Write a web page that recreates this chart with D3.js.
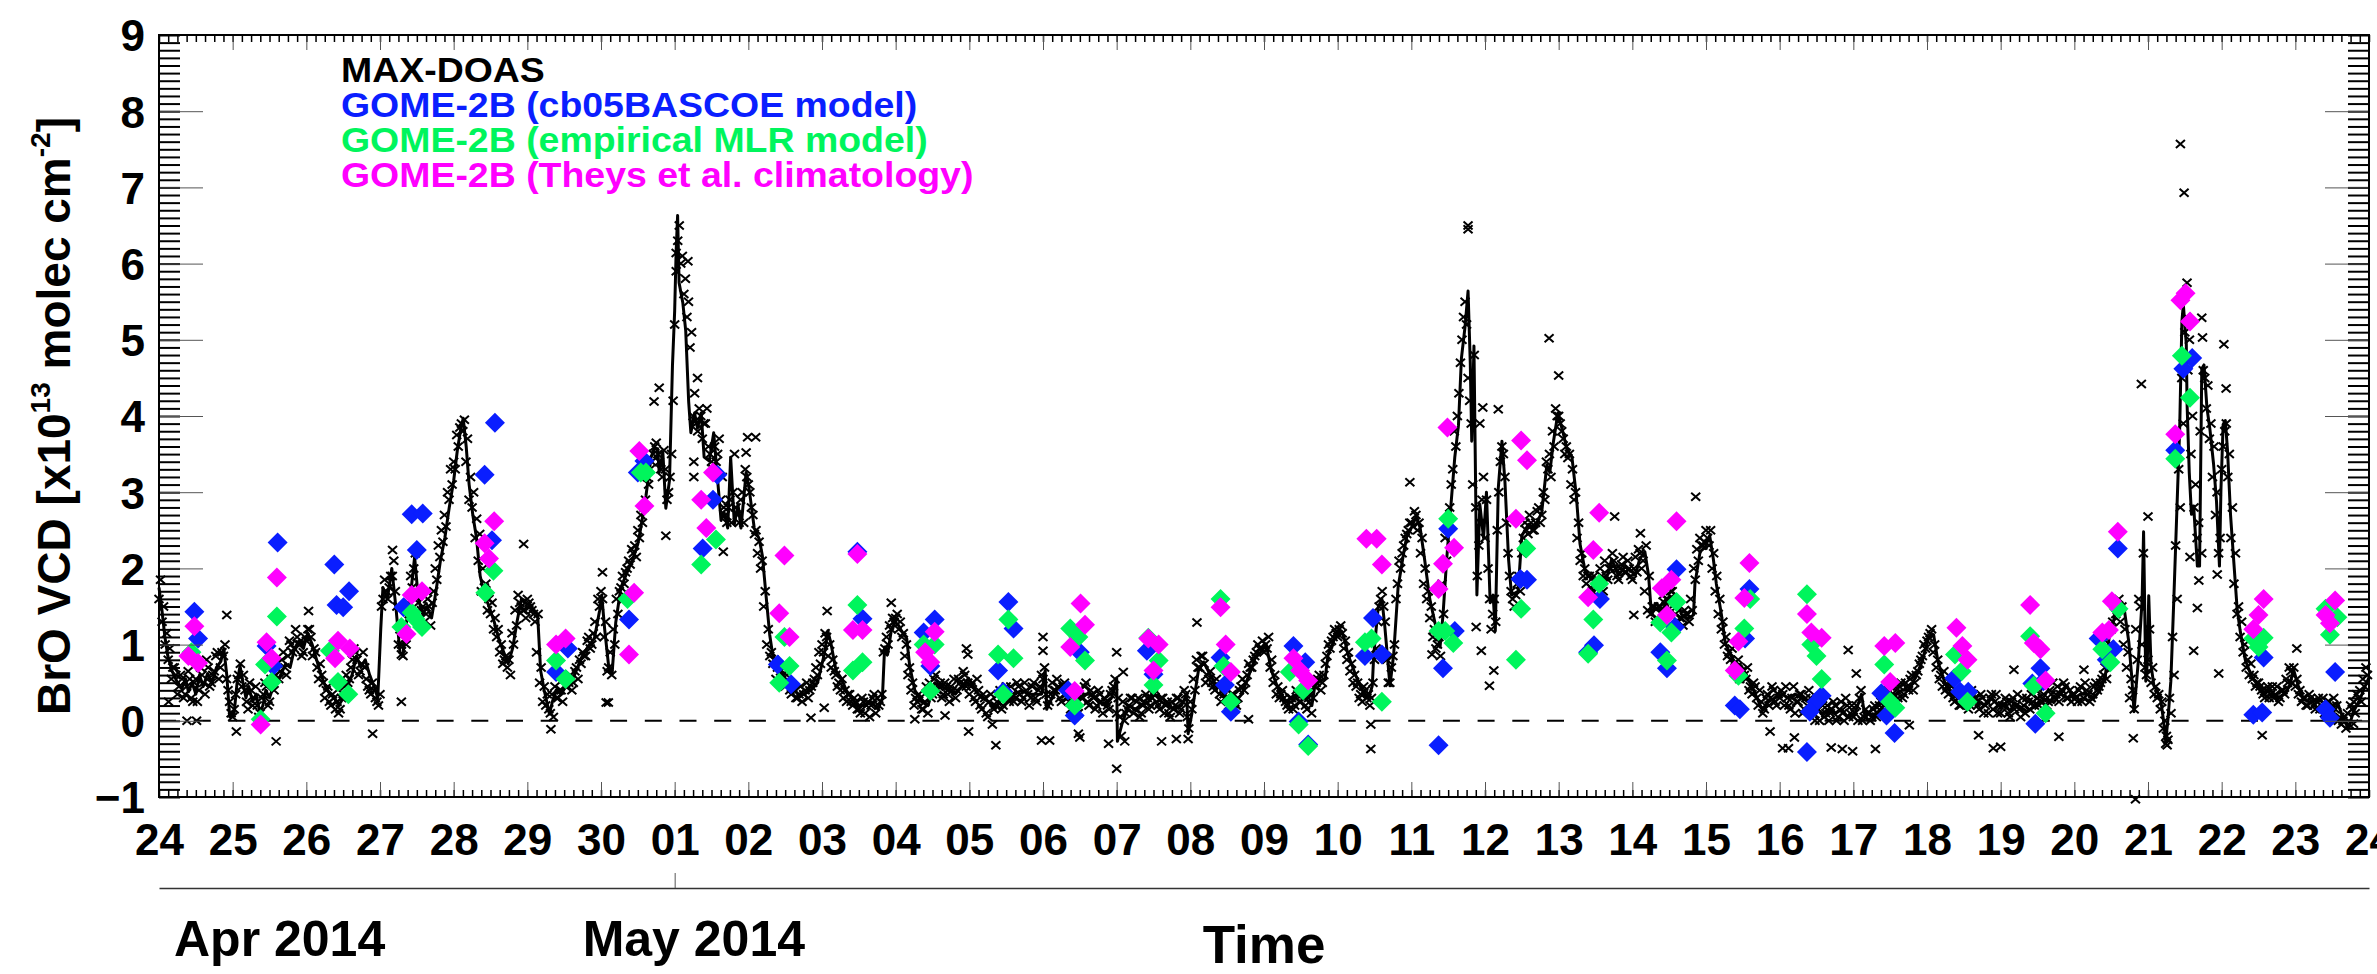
<!DOCTYPE html>
<html>
<head>
<meta charset="utf-8">
<script src="https://cdn.jsdelivr.net/npm/d3@7"></script>
<style>
  body { margin: 0; background: #fff; }
  svg { display: block; font-family: "Liberation Sans", Arial, Helvetica, sans-serif; font-weight: bold; }
</style>
</head>
<body>
<div id="chart"></div>
<script>
// time axis: fractional days counted from 24 Apr 2014 00:00 UTC
const startDate = Date.UTC(2014, 3, 24);
const endDate = Date.UTC(2014, 4, 24);
const monthLabels = ["Apr 2014", "May 2014"];
const legendLabels = [
  "MAX-DOAS",
  "GOME-2B (cb05BASCOE model)",
  "GOME-2B (empirical MLR model)",
  "GOME-2B (Theys et al. climatology)"
];

// MAX-DOAS smoothed line [day, VCD]
const doasLine = [
  [0,1.75],[0.04,1.45],[0.08,1.1],[0.12,0.85],[0.18,0.65],[0.25,0.5],[0.31,0.42],[0.36,0.55],[0.4,0.38],[0.45,0.5],
  [0.5,0.35],[0.55,0.6],[0.6,0.45],[0.66,0.62],[0.72,0.5],[0.78,0.7],[0.84,0.78],[0.88,0.95],[0.92,0.6],[0.96,0.05],
  [1.02,0.1],[1.06,0.5],[1.1,0.72],[1.14,0.5],[1.18,0.3],[1.22,0.45],[1.27,0.25],[1.32,0.35],[1.37,0.1],[1.41,0.2],
  [1.45,0.4],[1.5,0.3],[1.55,0.45],[1.6,0.5],[1.66,0.62],[1.72,0.75],[1.78,0.7],[1.84,0.95],[1.9,1.05],[1.96,0.95],
  [2.02,1.15],[2.08,1.0],[2.14,0.8],[2.2,0.6],[2.26,0.45],[2.32,0.35],[2.38,0.3],[2.44,0.2],[2.5,0.3],[2.56,0.45],
  [2.62,0.6],[2.68,0.85],[2.74,0.7],[2.8,0.8],[2.86,0.6],[2.92,0.45],[2.97,0.3],[3.01,1.2],[3.04,1.75],[3.1,1.6],
  [3.16,2.0],[3.22,1.45],[3.27,0.9],[3.31,0.85],[3.36,1.3],[3.42,1.7],[3.47,2.15],[3.52,1.6],[3.58,1.4],[3.64,1.5],
  [3.7,1.35],[3.76,1.7],[3.82,2.1],[3.88,2.4],[3.94,2.8],[4.0,3.15],[4.05,3.55],[4.1,3.85],[4.13,3.97],[4.17,3.6],
  [4.21,3.1],[4.26,2.7],[4.31,2.4],[4.36,1.9],[4.42,1.65],[4.48,1.5],[4.55,1.3],[4.62,1.05],[4.68,0.9],[4.74,0.75],
  [4.8,0.95],[4.86,1.3],[4.92,1.6],[4.97,1.55],[5.05,1.5],[5.14,1.39],[5.18,0.66],[5.23,0.4],[5.3,0.09],[5.34,0.25],
  [5.39,0.4],[5.46,0.35],[5.55,0.5],[5.64,0.6],[5.73,0.82],[5.82,0.97],[5.91,1.08],[5.98,1.44],[6.01,1.65],[6.05,1.2],
  [6.11,0.66],[6.15,0.61],[6.2,1.29],[6.27,1.75],[6.36,1.96],[6.43,2.12],[6.5,2.32],[6.54,2.53],[6.61,2.95],[6.68,3.46],
  [6.72,3.57],[6.77,3.57],[6.79,3.26],[6.84,3.52],[6.88,2.79],[6.93,3.16],[6.97,4.66],[7.0,5.38],[7.02,6.16],[7.04,6.63],
  [7.06,5.75],[7.11,5.49],[7.15,5.12],[7.19,4.19],[7.22,3.78],[7.27,4.04],[7.31,3.84],[7.36,4.04],[7.4,3.46],[7.47,3.41],
  [7.53,3.78],[7.57,3.31],[7.63,2.63],[7.67,2.74],[7.72,2.53],[7.76,3.46],[7.81,2.58],[7.86,2.84],[7.9,2.53],[7.97,3.26],
  [8.01,3.05],[8.08,2.53],[8.15,2.38],[8.19,2.17],[8.24,1.65],[8.29,1.13],[8.33,0.87],[8.4,0.72],[8.49,0.56],[8.58,0.46],
  [8.67,0.35],[8.76,0.35],[8.85,0.4],[8.94,0.5],[9.03,0.87],[9.08,1.18],[9.12,1.02],[9.19,0.66],[9.26,0.56],[9.33,0.4],
  [9.4,0.3],[9.48,0.2],[9.57,0.2],[9.67,0.25],[9.76,0.15],[9.82,0.3],[9.85,0.97],[9.89,0.87],[9.94,1.18],[9.99,1.3],
  [10.04,1.25],[10.08,1.18],[10.15,1.08],[10.19,0.72],[10.26,0.4],[10.35,0.25],[10.44,0.2],[10.53,0.5],[10.62,0.45],[10.71,0.4],
  [10.81,0.35],[10.9,0.45],[10.99,0.56],[11.08,0.4],[11.17,0.3],[11.26,0.25],[11.35,0.15],[11.44,0.3],[11.53,0.25],[11.62,0.35],
  [11.71,0.4],[11.8,0.35],[11.89,0.35],[11.98,0.35],[12.03,0.66],[12.05,0.15],[12.12,0.3],[12.21,0.45],[12.3,0.4],[12.39,0.35],
  [12.48,0.3],[12.57,0.35],[12.66,0.35],[12.75,0.25],[12.84,0.2],[12.93,0.3],[13.0,0.56],[13.01,-0.27],[13.07,-0.05],[13.16,0.2],
  [13.25,0.15],[13.34,0.2],[13.43,0.25],[13.52,0.35],[13.61,0.25],[13.7,0.2],[13.79,0.15],[13.88,0.2],[13.95,0.35],[13.97,-0.17],
  [14.02,0.09],[14.06,0.35],[14.11,0.66],[14.18,0.77],[14.24,0.66],[14.33,0.5],[14.43,0.4],[14.52,0.25],[14.61,0.25],[14.7,0.35],
  [14.78,0.56],[14.88,0.82],[14.97,0.92],[15.03,1.0],[15.1,0.66],[15.2,0.4],[15.29,0.25],[15.38,0.25],[15.47,0.35],[15.56,0.3],
  [15.65,0.2],[15.69,0.46],[15.74,0.51],[15.83,0.56],[15.87,0.87],[15.96,1.08],[16.05,1.18],[16.09,1.08],[16.14,0.87],[16.24,0.61],
  [16.33,0.4],[16.42,0.3],[16.47,0.46],[16.49,0.87],[16.55,1.49],[16.6,1.6],[16.64,1.24],[16.71,0.46],[16.76,0.87],[16.82,1.75],
  [16.89,2.17],[16.94,2.43],[17.0,2.53],[17.07,2.69],[17.12,2.53],[17.18,2.12],[17.25,1.6],[17.32,1.29],[17.39,0.97],[17.43,1.39],
  [17.48,2.12],[17.53,2.74],[17.59,3.46],[17.64,3.88],[17.68,4.76],[17.73,5.18],[17.77,5.64],[17.8,4.7],[17.82,3.67],[17.85,4.92],
  [17.89,1.65],[17.93,2.84],[17.98,2.4],[18.02,3.0],[18.07,1.55],[18.11,1.65],[18.14,1.18],[18.18,3.05],[18.23,3.67],[18.27,3.15],
  [18.32,2.12],[18.36,1.65],[18.45,1.7],[18.5,2.43],[18.59,2.58],[18.68,2.53],[18.77,2.74],[18.84,3.36],[18.88,3.26],[18.93,3.67],
  [18.99,4.04],[19.06,3.78],[19.11,3.57],[19.18,3.46],[19.24,2.95],[19.29,2.32],[19.36,1.96],[19.45,1.86],[19.54,1.8],[19.63,1.8],
  [19.72,2.12],[19.81,1.91],[19.9,2.02],[19.99,1.96],[20.04,1.91],[20.1,2.12],[20.17,2.22],[20.22,1.91],[20.26,1.39],[20.31,1.49],
  [20.4,1.44],[20.49,1.6],[20.58,1.65],[20.67,1.39],[20.76,1.34],[20.83,1.39],[20.85,1.8],[20.92,2.22],[20.99,2.28],[21.05,2.43],
  [21.1,2.12],[21.14,1.8],[21.21,1.39],[21.26,1.03],[21.33,0.87],[21.39,0.77],[21.48,0.72],[21.57,0.56],[21.67,0.35],[21.76,0.15],
  [21.85,0.25],[21.94,0.3],[22.03,0.35],[22.12,0.3],[22.21,0.35],[22.3,0.3],[22.39,0.25],[22.48,0.2],[22.57,0.09],[22.66,0.15],
  [22.75,0.09],[22.84,0.15],[22.93,0.04],[23.02,0.09],[23.11,0.35],[23.16,0.04],[23.2,0.09],[23.29,0.09],[23.38,0.15],[23.48,0.35],
  [23.57,0.35],[23.66,0.4],[23.75,0.4],[23.84,0.56],[23.93,0.77],[24.02,1.08],[24.09,1.13],[24.15,0.77],[24.24,0.51],[24.33,0.35],
  [24.43,0.3],[24.52,0.25],[24.61,0.35],[24.7,0.25],[24.79,0.2],[24.88,0.3],[24.97,0.2],[25.06,0.22],[25.13,0.12],[25.18,0.24],
  [25.27,0.18],[25.36,0.12],[25.45,0.18],[25.54,0.24],[25.63,0.29],[25.72,0.24],[25.81,0.35],[25.9,0.46],[25.99,0.29],[26.08,0.35],
  [26.17,0.35],[26.26,0.29],[26.35,0.4],[26.42,0.57],[26.47,1.08],[26.53,1.3],[26.6,1.58],[26.67,1.52],[26.74,1.03],[26.78,0.57],
  [26.81,0.12],[26.87,0.8],[26.92,1.58],[26.94,2.48],[26.97,0.52],[26.99,0.74],[27.01,1.64],[27.04,0.74],[27.08,0.46],[27.12,0.4],
  [27.17,0.29],[27.21,0.01],[27.24,-0.27],[27.27,0.01],[27.31,0.52],[27.35,1.58],[27.39,2.71],[27.43,3.83],[27.46,5.24],[27.48,5.46],
  [27.52,4.94],[27.53,4.17],[27.56,3.26],[27.59,2.71],[27.62,2.82],[27.67,2.03],[27.7,2.03],[27.73,4.62],[27.76,4.67],[27.8,4.11],
  [27.84,3.83],[27.89,3.37],[27.93,2.88],[27.97,2.03],[27.99,3.03],[28.02,3.89],[28.05,3.94],[28.08,3.54],[28.12,2.71],[28.16,2.15],
  [28.21,1.47],[28.25,1.19],[28.32,0.8],[28.41,0.57],[28.5,0.46],[28.57,0.35],[28.66,0.4],[28.75,0.29],[28.84,0.35],[28.93,0.46],
  [28.97,0.69],[29.04,0.46],[29.11,0.29],[29.2,0.24],[29.29,0.29],[29.38,0.24],[29.47,0.18],[29.57,0.24],[29.66,0.01],[29.72,-0.1],
  [29.79,0.12],[29.88,0.29],[29.95,0.46],[30.0,0.57]
];

// MAX-DOAS individual retrievals, one row per day, at half past each hour
const doasHourly = [
  [1.85,1.5,1.15,0.95,0.7,0.6,0.45,0.55,0.35,0.65,0.3,0.5,0.25,0.7,0.5,0.8,0.45,0.6,0.85,0.55,0.9,1.0,0.4,0.1],
  [0.15,0.55,0.75,0.6,0.25,0.5,0.2,0.45,0.05,0.3,0.5,0.2,0.55,0.4,0.75,0.65,0.9,0.6,1.05,0.9,1.2,1.0,0.85,1.1],
  [1.2,1.1,0.95,0.7,0.75,0.5,0.4,0.25,0.35,0.15,0.1,0.3,0.45,0.5,0.7,0.95,0.8,0.65,0.9,0.55,0.4,0.5,0.3,0.2],
  [1.5,1.85,1.6,1.9,2.1,1.5,1.2,0.85,1.0,1.4,1.75,2.2,1.55,1.45,1.3,1.6,1.25,1.7,1.85,2.15,2.35,2.55,2.9,3.1],
  [3.3,3.6,3.9,3.95,3.7,3.2,3.0,2.65,2.45,2.0,1.8,1.6,1.55,1.35,1.2,1.0,0.8,0.7,0.6,1.0,1.25,1.55,1.45,1.35],
  [1.55,1.45,1.3,1.4,0.7,0.45,0.35,0.1,0.05,0.3,0.4,0.25,0.45,0.5,0.4,0.65,0.55,0.75,0.85,1.05,0.95,1.15,1.1,1.5],
  [1.6,1.3,0.7,0.6,1.0,1.4,1.75,1.8,2.0,2.05,2.2,2.15,2.4,2.6,2.9,3.1,3.4,3.6,3.5,3.3,3.55,2.9,3.2,4.2],
  [5.9,6.5,6.1,5.8,5.5,5.1,4.3,3.8,4.0,3.9,4.1,3.5,3.3,3.4,3.7,3.2,2.7,2.8,2.6,3.5,2.7,2.9,2.6,3.2],
  [3.0,2.7,2.5,2.35,2.1,1.7,1.2,0.9,0.8,0.7,0.65,0.5,0.6,0.4,0.45,0.3,0.35,0.25,0.4,0.3,0.45,0.55,0.6,0.75],
  [0.9,1.1,1.0,0.8,0.6,0.5,0.55,0.4,0.35,0.25,0.3,0.15,0.1,0.25,0.2,0.05,0.3,0.1,0.2,0.35,0.95,1.0,1.2,1.3],
  [1.4,1.3,1.15,1.0,0.7,0.5,0.3,0.35,0.15,0.25,0.1,0.3,0.55,0.4,0.5,0.35,0.45,0.25,0.4,0.3,0.55,0.45,0.6,0.5],
  [0.45,0.3,0.55,0.2,0.35,0.1,0.25,-0.05,0.2,0.35,0.15,0.4,0.3,0.45,0.25,0.5,0.35,0.3,0.4,0.2,0.45,0.3,0.4,0.6],
  [0.7,0.2,0.35,0.4,0.55,0.3,0.45,0.35,0.25,0.4,0.2,0.1,0.3,0.45,0.25,0.4,0.3,0.2,0.35,0.1,0.25,0.15,0.4,0.55],
  [0.3,-0.2,0.0,0.15,0.3,0.1,0.25,0.05,0.2,0.35,0.15,0.3,0.4,0.2,0.3,0.1,0.25,0.05,0.15,0.3,0.1,0.25,0.35,-0.1],
  [0.15,0.4,0.7,0.85,0.75,0.6,0.65,0.45,0.55,0.35,0.4,0.3,0.2,0.35,0.15,0.3,0.45,0.4,0.6,0.7,0.8,0.9,0.95,1.05],
  [1.0,1.1,0.8,0.6,0.45,0.35,0.3,0.2,0.3,0.15,0.4,0.25,0.35,0.2,0.3,0.1,0.45,0.55,0.4,0.6,0.85,0.95,1.1,1.15],
  [1.2,1.15,1.05,0.9,0.75,0.6,0.5,0.35,0.45,0.3,0.2,0.5,0.95,1.5,1.7,1.3,0.5,0.7,1.0,1.8,2.0,2.3,2.45,2.6],
  [2.55,2.7,2.6,2.4,2.0,1.7,1.5,1.2,1.0,0.85,1.4,2.1,2.8,3.3,3.6,4.3,5.0,5.5,4.5,3.9,4.8,1.9,2.6,3.2],
  [2.9,1.6,1.4,1.3,3.0,3.6,3.2,2.2,1.7,1.5,1.8,1.7,2.4,2.5,2.7,2.5,2.6,2.8,2.7,2.9,3.3,3.2,3.6,4.0],
  [3.9,3.7,3.6,3.5,3.3,3.0,2.6,2.2,2.0,1.9,1.75,1.9,1.8,2.0,1.7,1.9,2.0,2.2,2.0,1.85,2.05,1.95,2.1,1.9],
  [2.0,1.95,2.2,2.1,2.3,1.9,1.5,1.3,1.5,1.4,1.55,1.45,1.7,1.6,1.5,1.35,1.25,1.4,1.3,1.45,1.85,2.1,2.3,2.35],
  [2.4,2.5,2.2,1.9,1.6,1.3,1.1,0.9,0.95,0.7,0.8,0.65,0.6,0.7,0.45,0.5,0.3,0.4,0.1,0.3,0.2,0.45,0.25,0.35],
  [0.4,0.2,0.3,0.15,0.45,0.25,0.35,0.1,0.3,0.4,0.2,0.0,0.15,0.3,0.05,0.2,0.1,0.25,0.0,0.15,0.1,0.3,0.05,0.2],
  [0.1,0.0,0.4,0.05,0.1,0.0,0.15,0.05,0.2,0.1,0.3,0.4,0.25,0.45,0.3,0.5,0.35,0.45,0.55,0.4,0.6,0.75,0.85,0.95],
  [1.1,1.2,1.0,0.8,0.6,0.65,0.45,0.5,0.3,0.4,0.2,0.35,0.25,0.15,0.4,0.3,0.2,0.35,0.1,0.25,0.3,0.15,0.35,0.2],
  [0.2,0.3,0.1,0.25,0.15,0.35,0.05,0.2,0.3,0.15,0.25,0.4,0.2,0.3,0.45,0.25,0.35,0.3,0.45,0.35,0.5,0.3,0.4,0.35],
  [0.3,0.4,0.25,0.5,0.35,0.3,0.45,0.4,0.5,0.6,0.55,1.0,1.3,1.4,1.6,1.5,1.2,0.9,0.55,0.15,0.8,1.5,2.2,0.6],
  [1.2,0.7,0.45,0.35,0.25,0.0,-0.25,0.1,0.6,1.6,2.8,3.9,5.3,5.0,4.0,3.1,2.6,2.2,4.5,4.4,3.9,3.6,3.0,2.4],
  [3.6,3.9,3.5,2.8,2.2,1.5,1.3,1.0,0.8,0.75,0.6,0.5,0.45,0.35,0.4,0.3,0.45,0.35,0.25,0.4,0.35,0.5,0.65,0.7],
  [0.55,0.4,0.3,0.2,0.35,0.25,0.15,0.3,0.2,0.1,0.25,0.15,0.3,0.2,0.05,0.0,-0.1,-0.05,0.15,0.1,0.3,0.25,0.45,0.6]
];

// MAX-DOAS individual retrievals, one row per day, on the hour
const doasOnHour = [
  [1.6,1.3,1.0,0.8,0.55,0.7,0.35,0.6,0.3,0.45,0.55,0.25,0.55,0.4,0.6,0.35,0.7,0.5,0.65,0.9,0.7,0.85,0.55,0.25],
  [0.05,0.35,0.6,0.45,0.4,0.15,0.4,0.3,0.2,0.1,0.35,0.45,0.25,0.5,0.6,0.55,0.8,0.7,0.85,1.0,0.95,1.1,1.0,0.9],
  [1.05,1.2,0.85,0.9,0.55,0.6,0.3,0.45,0.2,0.3,0.25,0.15,0.35,0.6,0.55,0.8,0.9,0.6,0.75,0.7,0.45,0.35,0.4,0.25],
  [0.35,1.6,1.7,1.75,1.9,1.7,1.0,1.0,1.15,1.55,1.9,2.0,1.7,1.35,1.5,1.4,1.5,1.55,2.0,2.3,2.5,2.7,3.0,3.3],
  [3.4,3.75,3.85,3.8,3.4,2.9,2.8,2.4,2.1,1.7,1.75,1.45,1.4,1.2,1.1,0.9,0.75,0.85,0.8,1.15,1.45,1.65,1.5,1.45],
  [1.6,1.5,1.4,0.9,0.5,0.25,0.2,0.15,0.35,0.45,0.3,0.4,0.55,0.45,0.6,0.5,0.7,0.8,0.9,0.85,1.1,1.0,1.3,1.6],
  [1.7,1.1,0.65,0.9,1.2,1.6,1.7,1.9,1.95,2.1,2.25,2.3,2.5,2.7,2.8,3.2,3.3,3.5,3.65,3.4,3.2,3.3,3.0,3.5],
  [5.2,6.3,6.0,5.6,5.3,4.9,4.0,3.9,4.1,3.7,3.9,3.6,3.4,3.6,3.5,2.9,2.8,2.6,2.9,3.0,2.8,2.6,3.0,3.3],
  [3.1,2.8,2.45,2.2,2.0,1.5,1.0,0.85,0.75,0.55,0.5,0.6,0.45,0.5,0.35,0.4,0.3,0.45,0.35,0.5,0.4,0.5,0.7,0.9],
  [1.0,1.15,0.85,0.7,0.65,0.45,0.4,0.3,0.25,0.35,0.2,0.25,0.15,0.3,0.1,0.25,0.2,0.35,0.3,0.25,0.9,1.1,1.25,1.35],
  [1.35,1.2,1.1,0.85,0.6,0.4,0.2,0.25,0.3,0.15,0.45,0.5,0.35,0.6,0.45,0.3,0.5,0.35,0.45,0.55,0.4,0.5,0.65,0.45],
  [0.35,0.5,0.25,0.4,0.15,0.3,0.05,0.35,0.15,0.25,0.4,0.2,0.45,0.25,0.35,0.3,0.45,0.25,0.5,0.35,0.3,0.5,0.25,0.45],
  [0.55,0.35,0.25,0.5,0.4,0.45,0.25,0.5,0.3,0.15,0.35,0.25,0.4,0.3,0.5,0.2,0.35,0.15,0.4,0.25,0.3,0.2,0.35,0.45],
  [0.1,0.05,0.25,0.1,0.2,0.3,0.15,0.3,0.1,0.25,0.3,0.2,0.35,0.25,0.15,0.3,0.2,0.1,0.25,0.2,0.3,0.15,0.4,0.05],
  [0.25,0.55,0.8,0.7,0.85,0.5,0.55,0.5,0.4,0.45,0.25,0.35,0.3,0.25,0.35,0.2,0.4,0.55,0.5,0.75,0.7,0.85,1.0,0.95],
  [0.9,0.95,0.7,0.5,0.35,0.3,0.4,0.25,0.15,0.3,0.2,0.35,0.25,0.35,0.15,0.35,0.3,0.5,0.6,0.5,0.75,1.0,1.05,1.2],
  [1.1,1.25,0.95,0.8,0.65,0.5,0.45,0.3,0.25,0.4,0.35,0.3,0.8,1.3,1.6,1.5,0.8,0.5,0.85,1.6,2.1,2.2,2.4,2.5],
  [2.6,2.75,2.5,2.2,1.8,1.6,1.35,1.1,0.95,1.1,1.8,2.4,2.6,3.1,3.8,4.0,4.7,5.3,5.2,4.2,3.1,2.8,2.3,2.9],
  [2.4,2.0,1.2,1.6,2.5,3.4,3.5,2.6,1.9,1.6,1.65,1.9,2.2,2.6,2.45,2.6,2.5,2.75,2.6,3.0,3.4,3.5,3.8,4.1],
  [4.0,3.8,3.5,3.45,3.1,2.9,2.4,2.1,1.9,1.8,1.9,1.7,1.85,1.75,1.9,2.1,1.85,2.0,2.1,1.9,2.0,2.15,1.95,2.0],
  [1.85,2.15,2.25,2.0,1.7,1.45,1.4,1.5,1.35,1.5,1.65,1.6,1.55,1.7,1.4,1.3,1.35,1.45,1.4,1.6,2.0,2.25,2.4,2.3],
  [2.5,2.3,2.0,1.7,1.4,1.2,1.0,0.85,0.8,0.75,0.7,0.55,0.65,0.55,0.4,0.35,0.45,0.2,0.25,0.15,0.35,0.3,0.4,0.2],
  [0.3,0.35,0.45,0.2,0.3,0.1,0.25,0.35,0.15,0.2,0.3,0.1,0.25,0.0,0.2,0.1,0.0,0.15,0.2,0.05,0.25,0.0,0.2,0.1],
  [0.05,0.2,0.3,0.0,0.15,0.1,0.05,0.2,0.1,0.25,0.2,0.35,0.45,0.3,0.4,0.45,0.3,0.5,0.4,0.6,0.5,0.65,0.8,1.0],
  [1.05,1.15,0.9,0.7,0.55,0.45,0.4,0.35,0.45,0.25,0.3,0.2,0.4,0.3,0.2,0.35,0.25,0.15,0.3,0.2,0.1,0.35,0.25,0.1],
  [0.1,0.2,0.25,0.05,0.3,0.2,0.15,0.3,0.1,0.25,0.35,0.2,0.3,0.25,0.35,0.2,0.4,0.5,0.35,0.25,0.4,0.45,0.3,0.25],
  [0.35,0.25,0.45,0.3,0.4,0.25,0.35,0.5,0.45,0.55,0.7,0.9,1.2,1.55,1.45,1.3,1.0,0.7,0.3,0.4,1.2,1.6,1.0,0.7],
  [0.8,0.5,0.35,0.3,0.15,-0.1,-0.2,0.3,1.1,2.3,3.3,4.5,5.1,4.6,3.5,2.8,2.4,3.8,4.6,4.1,3.7,3.2,2.7,2.2],
  [3.3,3.8,3.2,2.4,1.8,1.4,1.1,0.9,0.7,0.6,0.55,0.45,0.5,0.4,0.3,0.45,0.35,0.3,0.45,0.3,0.4,0.55,0.7,0.5],
  [0.45,0.35,0.25,0.3,0.2,0.3,0.2,0.25,0.15,0.3,0.2,0.25,0.1,0.15,0.0,-0.05,0.05,0.1,0.2,0.25,0.35,0.4,0.55,0.7]
];

// MAX-DOAS scattered retrievals away from the main band [day, VCD]
const doasExtra = [
  [0.13,0.25],[0.38,0.0],[0.51,0.0],[0.92,1.39],[1.05,-0.14],[1.59,-0.27],[2.03,1.44],[2.9,-0.17],[3.17,2.24],[3.29,0.25],
  [3.29,0.87],[4.95,2.32],[5.32,-0.11],[6.02,1.95],[6.07,0.24],[6.1,0.24],[6.72,4.19],[6.79,4.37],[6.88,2.43],[7.02,6.14],
  [7.18,6.03],[7.26,3.4],[7.26,3.2],[7.31,4.5],[7.66,2.22],[7.97,3.52],[7.99,3.72],[8.1,3.72],[8.85,0.04],[9.03,0.17],
  [9.07,1.44],[9.94,1.55],[10.26,0.02],[10.67,0.07],[10.96,0.95],[10.98,0.87],[10.99,-0.14],[11.36,-0.32],[12.0,1.1],[12.0,0.92],
  [11.98,-0.26],[12.09,-0.26],[12.48,-0.17],[12.5,-0.22],[12.89,-0.3],[13.0,-0.63],[13.0,0.9],[13.09,0.64],[13.11,-0.27],[13.61,-0.27],
  [13.81,-0.24],[13.97,-0.24],[14.09,1.29],[14.79,0.02],[16.45,-0.05],[16.45,-0.37],[16.98,3.13],[17.28,0.87],[17.77,6.5],[17.77,6.45],
  [17.88,1.23],[17.93,3.9],[17.95,0.92],[17.97,4.11],[18.06,0.46],[18.12,0.66],[18.18,4.09],[18.87,5.02],[19.0,4.53],[19.76,2.68],
  [20.02,1.39],[20.11,2.46],[20.86,2.94],[21.87,-0.14],[22.04,-0.36],[22.12,-0.36],[22.2,-0.22],[22.7,-0.35],[22.85,-0.37],[22.93,0.93],
  [22.99,-0.4],[23.04,0.62],[23.3,-0.37],[23.76,-0.06],[24.7,-0.19],[24.9,-0.36],[25.0,-0.34],[25.18,0.67],[25.79,-0.21],[26.13,0.67],
  [26.8,-0.23],[26.83,-1.03],[26.91,4.42],[27.0,2.68],[27.24,-0.3],[27.26,-0.32],[27.44,7.57],[27.49,6.93],[27.53,5.75],[27.57,2.15],
  [27.62,0.92],[27.67,1.48],[27.69,1.84],[27.73,5.29],[27.74,5.03],[27.94,1.92],[27.96,0.62],[28.03,4.94],[28.06,4.36],[28.55,-0.19],
  [29.02,0.95],[29.79,-0.04]
];

// GOME-2B with cb05BASCOE stratospheric model [day, VCD]
const gomeBascoe = [
  [0.48,1.43],[0.53,1.08],[1.61,2.34],[1.46,0.98],[1.55,0.72],[2.38,2.05],[2.58,1.7],[2.41,1.52],[2.5,1.49],[3.43,2.71],
  [3.58,2.72],[3.5,2.24],[3.32,1.49],[4.56,3.91],[4.42,3.23],[4.52,2.37],[5.55,0.95],[5.39,0.64],[6.59,3.41],[6.5,3.26],
  [6.38,1.33],[7.58,3.23],[7.52,2.9],[7.38,2.26],[8.4,0.74],[8.58,0.48],[9.48,2.22],[9.55,1.34],[10.53,1.33],[10.38,1.16],
  [10.47,0.72],[11.53,1.56],[11.6,1.21],[11.39,0.66],[11.46,0.38],[12.5,0.9],[12.34,0.4],[12.43,0.07],[13.41,0.92],[13.5,0.61],
  [14.41,0.83],[14.47,0.47],[14.55,0.12],[15.4,0.98],[15.56,0.77],[15.47,-0.01],[15.6,-0.31],[16.48,1.35],[16.37,0.85],[16.6,0.87],
  [17.5,2.52],[17.59,1.18],[17.43,0.69],[17.37,-0.32],[18.48,1.86],[18.57,1.85],[19.56,1.6],[19.48,0.99],[19.4,0.9],[20.6,1.99],
  [20.58,1.23],[20.38,0.9],[20.47,0.69],[21.59,1.73],[21.53,1.08],[21.39,0.2],[21.46,0.15],[22.57,0.33],[22.5,0.25],[22.41,0.12],
  [22.37,-0.41],[23.38,0.36],[23.45,0.07],[23.56,-0.16],[24.37,0.56],[24.45,0.38],[24.56,0.38],[25.54,0.69],[25.43,0.49],[25.58,0.52],
  [25.47,-0.04],[26.59,2.26],[26.33,1.08],[26.53,0.94],[26.44,0.8],[27.6,4.76],[27.48,4.62],[27.37,3.55],[28.57,0.83],[28.43,0.08],
  [28.55,0.11],[29.54,0.64],[29.41,0.15],[29.47,0.04]
];

// GOME-2B with empirical MLR stratospheric model [day, VCD]
const gomeMlr = [
  [0.44,0.9],[1.6,1.37],[1.44,0.74],[1.53,0.51],[1.38,0.02],[2.32,0.92],[2.43,0.51],[2.57,0.35],[3.43,1.42],[3.48,1.34],
  [3.57,1.23],[3.29,1.23],[4.54,1.97],[4.43,1.68],[5.39,0.79],[5.52,0.55],[6.54,3.26],[6.61,3.26],[6.36,1.6],[7.56,2.38],
  [7.36,2.05],[8.49,1.1],[8.56,0.72],[8.42,0.5],[9.48,1.52],[9.42,0.66],[9.55,0.77],[10.53,1.0],[10.38,1.0],[10.47,0.39],
  [11.53,1.33],[11.39,0.87],[11.6,0.82],[11.46,0.35],[12.37,1.21],[12.48,1.1],[12.57,0.79],[12.43,0.2],[13.43,1.09],[13.57,0.79],
  [13.5,0.47],[14.41,1.6],[14.45,0.72],[14.55,0.25],[15.35,0.64],[15.53,0.4],[15.47,-0.05],[15.6,-0.33],[16.46,1.08],[16.37,1.03],
  [16.6,0.25],[17.5,2.65],[17.37,1.18],[17.46,1.18],[17.57,1.02],[18.56,2.26],[18.49,1.47],[18.42,0.8],[19.55,1.8],[19.47,1.33],
  [19.4,0.88],[20.6,1.56],[20.38,1.29],[20.53,1.16],[20.47,0.79],[21.6,1.6],[21.52,1.21],[21.44,0.59],[22.37,1.66],[22.43,1.0],
  [22.5,0.85],[22.57,0.55],[23.42,0.74],[23.5,0.25],[23.57,0.17],[24.38,0.87],[24.47,0.65],[24.55,0.25],[25.4,1.11],[25.45,0.46],
  [25.61,0.1],[26.6,1.47],[26.38,0.94],[26.49,0.77],[27.46,4.79],[27.57,4.24],[27.37,3.44],[28.43,1.08],[28.57,1.09],[28.5,0.97],
  [29.41,1.47],[29.57,1.36],[29.47,1.13]
];

// GOME-2B with Theys et al. climatology [day, VCD]
const gomeTheys = [
  [0.48,1.24],[0.4,0.85],[0.53,0.76],[1.6,1.88],[1.46,1.03],[1.53,0.82],[1.38,-0.05],[2.43,1.05],[2.59,0.95],[2.39,0.82],
  [3.57,1.7],[3.43,1.65],[3.36,1.14],[4.55,2.62],[4.42,2.33],[4.48,2.13],[5.39,1.0],[5.52,1.08],[6.52,3.54],[6.59,2.82],
  [6.45,1.68],[6.38,0.87],[7.52,3.26],[7.36,2.9],[7.43,2.53],[8.49,2.17],[8.42,1.41],[8.56,1.1],[9.48,2.19],[9.42,1.19],
  [9.55,1.19],[10.53,1.17],[10.4,0.9],[10.47,0.77],[12.51,1.54],[12.57,1.26],[12.37,0.97],[12.43,0.39],[13.43,1.08],[13.57,1.0],
  [13.5,0.66],[14.41,1.49],[14.48,1.0],[14.55,0.64],[15.4,0.82],[15.49,0.66],[15.6,0.53],[16.39,2.39],[16.53,2.39],[16.6,2.05],
  [17.49,3.85],[17.58,2.27],[17.43,2.06],[17.37,1.73],[18.49,3.68],[18.57,3.42],[18.42,2.65],[19.55,2.73],[19.47,2.24],[19.4,1.62],
  [20.6,2.62],[20.53,1.85],[20.4,1.74],[20.47,1.39],[21.59,2.07],[21.52,1.61],[21.44,1.04],[21.39,0.66],[22.37,1.4],[22.43,1.16],
  [22.57,1.09],[23.42,0.98],[23.57,1.02],[23.5,0.51],[24.4,1.22],[24.48,0.98],[24.55,0.8],[25.4,1.52],[25.45,1.02],[25.54,0.94],
  [25.61,0.53],[26.59,2.48],[26.51,1.57],[26.38,1.16],[26.47,1.19],[27.44,5.52],[27.51,5.61],[27.57,5.24],[27.37,3.76],[28.57,1.6],
  [28.5,1.39],[28.43,1.2],[29.54,1.58],[29.41,1.39],[29.47,1.28]
];

const W = 2377, H = 974;
const plot = { left: 159, right: 2369, top: 35, bottom: 797 };
const colors = { doas: "#000000", bascoe: "#0a1eff", mlr: "#00f55c", theys: "#ff00ff" };

const toDate = d => new Date(startDate + d * 864e5);

const svg = d3.select("#chart").append("svg")
  .attr("width", W).attr("height", H);

const x = d3.scaleUtc()
  .domain([new Date(startDate), new Date(endDate)])
  .range([plot.left, plot.right]);
const y = d3.scaleLinear().domain([-1, 9]).range([plot.bottom, plot.top]);

function styleTicks(g, color, width) {
  g.select(".domain").remove();
  g.selectAll(".tick line").attr("stroke", color).attr("stroke-width", width);
}

// zero reference
svg.append("line")
  .attr("x1", plot.left).attr("x2", plot.right)
  .attr("y1", y(0)).attr("y2", y(0))
  .attr("stroke", "#000").attr("stroke-width", 2)
  .attr("stroke-dasharray", "17,17.7");

// MAX-DOAS crosses
const crosses = [];
doasHourly.forEach((row, d) => {
  row.forEach((v, i) => crosses.push([d + (i + 0.5) / row.length, v]));
});
doasOnHour.forEach((row, d) => {
  row.forEach((v, i) => crosses.push([d + i / row.length, v]));
});
doasExtra.forEach(p => crosses.push(p));

svg.append("g").selectAll("path")
  .data(crosses)
  .enter().append("path")
  .attr("transform", d => `translate(${x(toDate(d[0]))},${y(d[1])})`)
  .attr("d", "M-4.5,-4L4.5,4M-4.5,4L4.5,-4")
  .attr("stroke", colors.doas)
  .attr("stroke-width", 2)
  .attr("fill", "none");

// MAX-DOAS line
const line = d3.line()
  .x(d => x(toDate(d[0])))
  .y(d => y(d[1]));

svg.append("path")
  .datum(doasLine)
  .attr("d", line)
  .attr("fill", "none")
  .attr("stroke", "#000")
  .attr("stroke-width", 3)
  .attr("stroke-linejoin", "round");

// GOME-2B diamonds
const diamond = "M0,-10L10,0L0,10L-10,0Z";
[[gomeBascoe, colors.bascoe], [gomeMlr, colors.mlr], [gomeTheys, colors.theys]].forEach(([data, c]) => {
  svg.append("g").selectAll("path")
    .data(data)
    .enter().append("path")
    .attr("transform", d => `translate(${x(toDate(d[0]))},${y(d[1])})`)
    .attr("d", diamond)
    .attr("fill", c);
});

// axes: minor + major ticks on all four sides
const hourTicks = d3.utcHour.every(3);
const dayTicks = d3.utcDay.every(1);
const yMinor = d3.range(-10, 91).map(i => i / 10);
const yMajor = d3.range(-1, 10);

svg.append("g").attr("transform", `translate(0,${plot.bottom})`)
  .call(d3.axisBottom(x).ticks(hourTicks).tickSize(-7).tickFormat(""))
  .call(g => styleTicks(g, "#000", 1.5));

const xMajor = svg.append("g").attr("transform", `translate(0,${plot.bottom})`)
  .call(d3.axisBottom(x).ticks(dayTicks).tickSize(-15).tickFormat(d3.utcFormat("%d")))
  .call(g => styleTicks(g, "#555", 1));
xMajor.selectAll("text")
  .attr("y", 58).attr("dy", null)
  .attr("font-size", 44).attr("font-family", null).attr("font-weight", "bold")
  .attr("fill", "#000");

svg.append("g").attr("transform", `translate(0,${plot.top})`)
  .call(d3.axisTop(x).ticks(hourTicks).tickSize(-7).tickFormat(""))
  .call(g => styleTicks(g, "#000", 1.5));
svg.append("g").attr("transform", `translate(0,${plot.top})`)
  .call(d3.axisTop(x).ticks(dayTicks).tickSize(-15).tickFormat(""))
  .call(g => styleTicks(g, "#555", 1));

svg.append("g").attr("transform", `translate(${plot.left},0)`)
  .call(d3.axisLeft(y).tickValues(yMinor).tickSize(-21).tickFormat(""))
  .call(g => styleTicks(g, "#000", 2));
const yAxisG = svg.append("g").attr("transform", `translate(${plot.left},0)`)
  .call(d3.axisLeft(y).tickValues(yMajor).tickSize(-44).tickPadding(14).tickFormat(d3.format("d")))
  .call(g => styleTicks(g, "#555", 1));
yAxisG.selectAll("text")
  .attr("font-size", 44).attr("font-family", null).attr("font-weight", "bold")
  .attr("fill", "#000").attr("dy", "0.36em");

svg.append("g").attr("transform", `translate(${plot.right},0)`)
  .call(d3.axisRight(y).tickValues(yMinor).tickSize(-21).tickFormat(""))
  .call(g => styleTicks(g, "#000", 2));
svg.append("g").attr("transform", `translate(${plot.right},0)`)
  .call(d3.axisRight(y).tickValues(yMajor).tickSize(-44).tickFormat(""))
  .call(g => styleTicks(g, "#555", 1));

// frame
svg.append("rect")
  .attr("x", plot.left).attr("y", plot.top)
  .attr("width", plot.right - plot.left).attr("height", plot.bottom - plot.top)
  .attr("fill", "none").attr("stroke", "#000").attr("stroke-width", 2);

// month axis
const monthAxis = svg.append("g").attr("transform", "translate(0,888)")
  .call(d3.axisBottom(x).tickValues([new Date(Date.UTC(2014, 4, 1))])
    .tickSize(-15).tickSizeOuter(0).tickFormat(""));
monthAxis.select(".domain").attr("stroke", "#333").attr("stroke-width", 1.5);
monthAxis.selectAll(".tick line").attr("stroke", "#555").attr("stroke-width", 1);

svg.append("text")
  .attr("x", x(new Date(startDate)) + 15).attr("y", 956)
  .attr("font-size", 50).text(monthLabels[0]);
svg.append("text")
  .attr("x", x(new Date(Date.UTC(2014, 4, 1))) - 92).attr("y", 956)
  .attr("font-size", 50).text(monthLabels[1]);

svg.append("text")
  .attr("x", (plot.left + plot.right) / 2).attr("y", 963)
  .attr("text-anchor", "middle").attr("font-size", 53)
  .text("Time");

// y label
const yLab = svg.append("text")
  .attr("transform", `translate(70,${(plot.top + plot.bottom) / 2}) rotate(-90)`)
  .attr("text-anchor", "middle").attr("font-size", 46);
yLab.append("tspan").text("BrO VCD [x10");
yLab.append("tspan").attr("dy", -20).attr("font-size", 28).text("13");
yLab.append("tspan").attr("dy", 20).text(" molec cm");
yLab.append("tspan").attr("dy", -20).attr("font-size", 28).text("-2");
yLab.append("tspan").attr("dy", 20).text("]");

// legend (slightly widened glyphs, as in the original plot)
const legendColors = [colors.doas, colors.bascoe, colors.mlr, colors.theys];
svg.append("g")
  .attr("transform", "translate(341,0) scale(1.07,1)")
  .selectAll("text")
  .data(legendLabels)
  .enter().append("text")
  .attr("x", 0)
  .attr("y", (d, i) => 82 + i * 35)
  .attr("font-size", 35)
  .attr("fill", (d, i) => legendColors[i])
  .text(d => d);
</script>
</body>
</html>
